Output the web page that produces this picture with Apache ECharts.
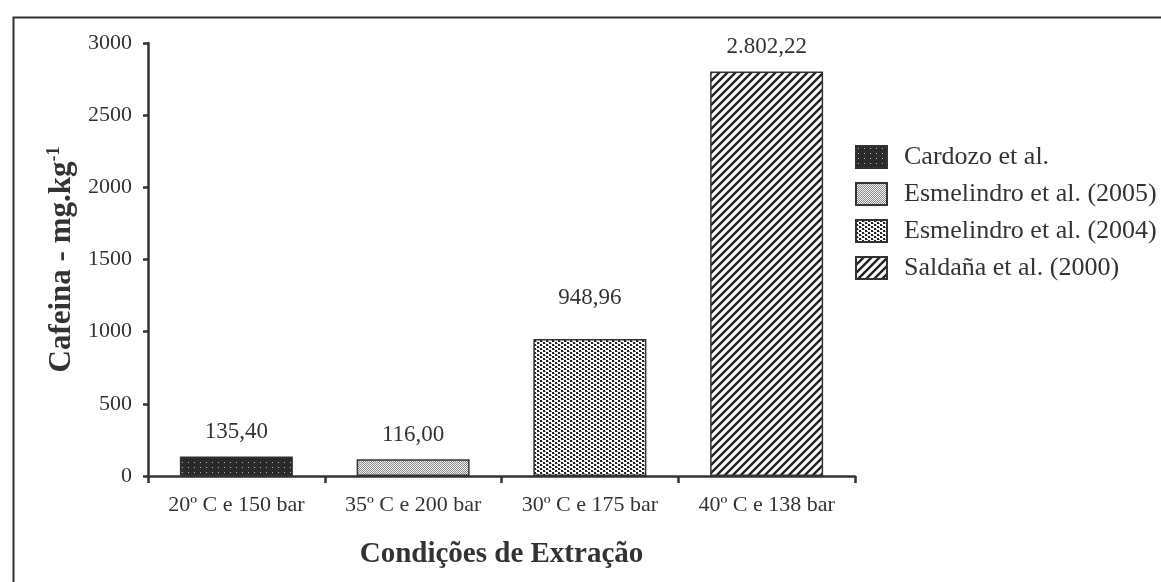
<!DOCTYPE html>
<html>
<head>
<meta charset="utf-8">
<script src="https://cdn.jsdelivr.net/npm/echarts@6/dist/echarts.min.js"></script>
<style>html,body{margin:0;padding:0;background:#fff}#c{width:1161px;height:582px}</style>
</head>
<body>
<div id="c"></div>
<script>
var categories = ['20º C e 150 bar', '35º C e 200 bar', '30º C e 175 bar', '40º C e 138 bar'];
var seriesNames = ['Cardozo et al.', 'Esmelindro et al. (2005)', 'Esmelindro et al. (2004)', 'Saldaña et al. (2000)'];
var values = [135.40, 116.00, 948.96, 2802.22];
var yTicks = [0, 500, 1000, 1500, 2000, 2500, 3000];

function fmt(v) {
  var parts = v.toFixed(2).split('.');
  parts[0] = parts[0].replace(/\B(?=(\d{3})+(?!\d))/g, '.');
  return parts[0] + ',' + parts[1];
}
function tile(w, h, draw) {
  var c = document.createElement('canvas');
  c.width = w; c.height = h;
  var g = c.getContext('2d');
  draw(g);
  return { image: c, repeat: 'repeat' };
}
var patterns = [
  tile(6, 5, function (g) { g.fillStyle = '#2a2a2a'; g.fillRect(0, 0, 6, 5); g.fillStyle = '#b8b8b8'; g.fillRect(2, 2, 1, 1); }),
  tile(2, 2, function (g) { g.fillStyle = '#f2f2f2'; g.fillRect(0, 0, 2, 2); g.fillStyle = '#8a8a8a'; g.fillRect(0, 0, 1, 1); g.fillRect(1, 1, 1, 1); }),
  tile(6, 4, function (g) { g.fillStyle = '#ffffff'; g.fillRect(0, 0, 6, 4); g.fillStyle = '#222'; g.fillRect(0, 0, 2, 2); g.fillRect(3, 2, 2, 2); g.fillStyle = '#999'; g.fillRect(2, 1, 1, 1); g.fillRect(5, 3, 1, 1); }),
  tile(8, 8, function (g) {
    g.fillStyle = '#ffffff'; g.fillRect(0, 0, 8, 8);
    g.strokeStyle = '#222'; g.lineWidth = 2.4;
    g.beginPath();
    g.moveTo(-2, 10); g.lineTo(10, -2);
    g.moveTo(-2, 2); g.lineTo(2, -2);
    g.moveTo(6, 10); g.lineTo(10, 6);
    g.stroke();
  })
];

var FONT = '"Liberation Serif", "Times New Roman", serif';
var series = seriesNames.map(function (name, i) {
  var data = categories.map(function (c, j) { return j === i ? values[j] : null; });
  return {
    name: name,
    type: 'bar',
    stack: 'all',
    barWidth: 113,
    data: data,
    itemStyle: { color: patterns[i], borderColor: '#333', borderWidth: 1.5 },
    label: {
      show: true,
      position: 'top',
      distance: i === 2 ? 30 : 13,
      formatter: function (p) { return fmt(p.value); },
      fontFamily: FONT, fontSize: 23, color: '#333'
    }
  };
});

var chart = echarts.init(document.getElementById('c'), null, { renderer: 'canvas' });
chart.setOption({
  animation: false,
  backgroundColor: '#fff',
  graphic: [{
    type: 'rect', left: 11, top: 15, silent: true,
    shape: { width: 1200, height: 620 },
    style: { fill: 'none', stroke: '#333', lineWidth: 2 }
  }],
  grid: { left: 148, right: 306, top: 43, bottom: 106, containLabel: false },
  legend: {
    orient: 'vertical', left: 850, top: 139,
    icon: 'rect',
    itemWidth: 31, itemHeight: 22, itemGap: 11,
    textStyle: { fontFamily: FONT, fontSize: 26, color: '#333', padding: [0, 0, 0, 12] },
    data: seriesNames
  },
  xAxis: {
    type: 'category', data: categories,
    name: 'Condições de Extração', nameLocation: 'middle', nameGap: 64,
    nameTextStyle: { fontFamily: FONT, fontSize: 29, fontWeight: 'bold', color: '#333' },
    axisLine: { lineStyle: { color: '#333', width: 2.5 } },
    axisTick: { show: true, length: 7, lineStyle: { color: '#333', width: 2.5 } },
    axisLabel: { interval: 0, hideOverlap: false, fontFamily: FONT, fontSize: 22, color: '#333', margin: 18 }
  },
  yAxis: {
    type: 'value', min: yTicks[0], max: yTicks[yTicks.length - 1], interval: 500,
    name: '{a|Cafeina - mg.kg}{b|-1}', nameLocation: 'middle', nameGap: 70,
    nameTextStyle: {
      color: '#333',
      rich: {
        a: { fontFamily: FONT, fontSize: 31, fontWeight: 'bold', color: '#333' },
        b: { fontFamily: FONT, fontSize: 18, fontWeight: 'bold', color: '#333', verticalAlign: 'top', padding: [0, 0, 14, 0] }
      }
    },
    splitLine: { show: false },
    axisLine: { show: true, lineStyle: { color: '#333', width: 2.5 } },
    axisTick: { show: true, length: 5, lineStyle: { color: '#333', width: 2.5 } },
    axisLabel: { fontFamily: FONT, fontSize: 22, color: '#333', margin: 16, formatter: function (v) { return String(v); } }
  },
  series: series
});
</script>
</body>
</html>
